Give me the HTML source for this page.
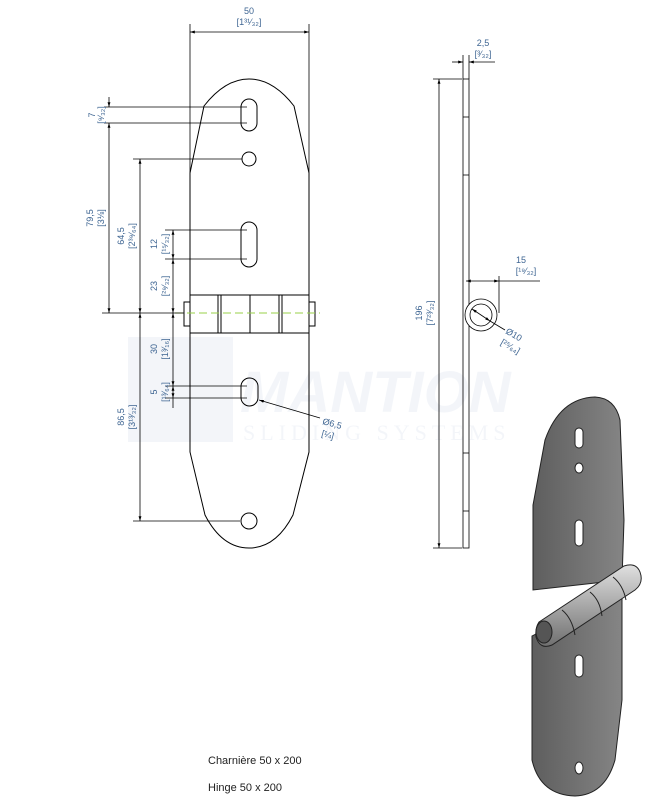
<!DOCTYPE html>
<html><head><meta charset="utf-8"><style>
html,body{margin:0;padding:0;background:#fff;}
svg{display:block;}
.t{font-family:"Liberation Sans",sans-serif;font-size:9px;fill:#3e6592;}
.c{font-family:"Liberation Sans",sans-serif;font-size:11px;fill:#222;}
</style></head><body>
<svg width="654" height="800" viewBox="0 0 654 800" xmlns="http://www.w3.org/2000/svg">
<defs>
<marker id="a" viewBox="0 0 10 10" refX="10" refY="5" markerWidth="6" markerHeight="6" orient="auto-start-reverse"><path d="M0,2 L10,5 L0,8z" fill="#000"/></marker>
<linearGradient id="g1" x1="0" x2="1"><stop offset="0" stop-color="#5e5e5e"/><stop offset="1" stop-color="#858585"/></linearGradient>
<linearGradient id="g2" x1="0" y1="0" x2="0" y2="1"><stop offset="0" stop-color="#e0e0e0"/><stop offset="1" stop-color="#707070"/></linearGradient>
</defs>
<g opacity="0.12">
<rect x="128" y="337" width="105" height="105" fill="#9fb4d4"/>
<text x="240" y="412" font-family="Liberation Sans,sans-serif" font-size="58" font-style="italic" font-weight="bold" fill="#9fb4d4">MANTION</text>
<text x="243" y="440" font-family="Liberation Serif,serif" font-size="22" fill="#9fb4d4" letter-spacing="5">SLIDING SYSTEMS</text>
</g>
<g fill="none" stroke="#000" stroke-width="1">
<path d="M190,173 L204,106 Q225,79 249,79 Q273,79 294,106 L309,173 L309,295 M190,295 L190,173"/>
<path d="M190,333 L190,452 L205,515 Q222,548 249,548 Q276,548 293,515 L309,452 L309,333"/>
<rect x="190" y="295" width="119" height="38"/>
<line x1="218" y1="295" x2="218" y2="333"/><line x1="221" y1="295" x2="221" y2="333"/>
<line x1="250" y1="295" x2="250" y2="333"/>
<line x1="279" y1="295" x2="279" y2="333"/><line x1="282" y1="295" x2="282" y2="333"/>
<rect x="184" y="302" width="6" height="24"/><rect x="309" y="302" width="6" height="24"/>
<rect x="241" y="99" width="16" height="32" rx="8"/>
<circle cx="249" cy="159" r="7"/>
<rect x="241" y="222" width="16" height="45" rx="8"/>
<rect x="241" y="378" width="17" height="28" rx="8.5"/>
<circle cx="249" cy="521" r="8"/>
</g>
<line x1="175" y1="313" x2="320" y2="313" stroke="#9ad04a" stroke-width="1" stroke-dasharray="8,4"/>
<g stroke="#000" stroke-width="0.8" fill="none">
<line x1="190" y1="24" x2="190" y2="173"/><line x1="309" y1="24" x2="309" y2="173"/>
<line x1="190" y1="32" x2="309" y2="32" marker-start="url(#a)" marker-end="url(#a)"/>
<line x1="104" y1="107" x2="247" y2="107"/><line x1="104" y1="123" x2="247" y2="123"/>
<line x1="109" y1="97" x2="109" y2="107" marker-end="url(#a)"/>
<line x1="109" y1="123" x2="109" y2="313" marker-start="url(#a)" marker-end="url(#a)"/>
<line x1="102" y1="313" x2="184" y2="313"/>
<line x1="133" y1="159" x2="242" y2="159"/>
<line x1="140" y1="159" x2="140" y2="313" marker-start="url(#a)" marker-end="url(#a)"/>
<line x1="165" y1="230" x2="247" y2="230"/><line x1="165" y1="259" x2="247" y2="259"/>
<line x1="173" y1="230" x2="173" y2="259" marker-start="url(#a)" marker-end="url(#a)"/>
<line x1="173" y1="259" x2="173" y2="313" marker-start="url(#a)" marker-end="url(#a)"/>
<line x1="173" y1="313" x2="173" y2="386" marker-start="url(#a)" marker-end="url(#a)"/>
<line x1="165" y1="386" x2="247" y2="386"/><line x1="165" y1="398" x2="247" y2="398"/>
<line x1="173" y1="386" x2="173" y2="398" marker-start="url(#a)" marker-end="url(#a)"/>
<line x1="173" y1="398" x2="173" y2="408"/>
<line x1="140" y1="313" x2="140" y2="521" marker-start="url(#a)" marker-end="url(#a)"/>
<line x1="133" y1="521" x2="240" y2="521"/>
<line x1="320" y1="418" x2="259" y2="400" marker-end="url(#a)"/>
<rect x="463" y="79" width="6" height="469"/>
<line x1="463" y1="117" x2="469" y2="117"/><line x1="463" y1="175" x2="469" y2="175"/>
<line x1="463" y1="453" x2="469" y2="453"/><line x1="463" y1="511" x2="469" y2="511"/>
<line x1="463" y1="55" x2="463" y2="79"/><line x1="469" y1="55" x2="469" y2="79"/>
<line x1="452" y1="62" x2="463" y2="62" marker-end="url(#a)"/>
<line x1="469" y1="62" x2="495" y2="62" marker-start="url(#a)"/>
<line x1="433" y1="79" x2="462" y2="79"/><line x1="433" y1="548" x2="462" y2="548"/>
<line x1="439" y1="79" x2="439" y2="548" marker-start="url(#a)" marker-end="url(#a)"/>
<circle cx="481" cy="315" r="16" fill="#fff"/>
<circle cx="481" cy="315" r="11"/>
<line x1="499" y1="276" x2="499" y2="313"/>
<line x1="466" y1="281" x2="499" y2="281" marker-start="url(#a)" marker-end="url(#a)"/>
<line x1="499" y1="281" x2="540" y2="281"/>
<line x1="472" y1="309" x2="490" y2="321" marker-start="url(#a)" marker-end="url(#a)"/>
<line x1="490" y1="321" x2="505" y2="330"/>
</g>
<text class="t" x="249" y="14" text-anchor="middle">50</text>
<text class="t" x="249" y="25" text-anchor="middle">[1³¹⁄₃₂]</text>
<text class="t" transform="translate(95,115) rotate(-90)" text-anchor="middle">7</text>
<text class="t" transform="translate(104,115) rotate(-90)" text-anchor="middle">[⁹⁄₃₂]</text>
<text class="t" transform="translate(93,218) rotate(-90)" text-anchor="middle">79,5</text>
<text class="t" transform="translate(104,218) rotate(-90)" text-anchor="middle">[3⅛]</text>
<text class="t" transform="translate(124,236) rotate(-90)" text-anchor="middle">64,5</text>
<text class="t" transform="translate(135,236) rotate(-90)" text-anchor="middle">[2³⁹⁄₆₄]</text>
<text class="t" transform="translate(157,244) rotate(-90)" text-anchor="middle">12</text>
<text class="t" transform="translate(168,244) rotate(-90)" text-anchor="middle">[¹⁵⁄₃₂]</text>
<text class="t" transform="translate(157,286) rotate(-90)" text-anchor="middle">23</text>
<text class="t" transform="translate(168,286) rotate(-90)" text-anchor="middle">[²⁹⁄₃₂]</text>
<text class="t" transform="translate(157,349) rotate(-90)" text-anchor="middle">30</text>
<text class="t" transform="translate(168,349) rotate(-90)" text-anchor="middle">[1³⁄₁₆]</text>
<text class="t" transform="translate(157,392) rotate(-90)" text-anchor="middle">5</text>
<text class="t" transform="translate(168,392) rotate(-90)" text-anchor="middle">[¹³⁄₆₄]</text>
<text class="t" transform="translate(124,417) rotate(-90)" text-anchor="middle">86,5</text>
<text class="t" transform="translate(135,417) rotate(-90)" text-anchor="middle">[3¹³⁄₃₂]</text>
<text class="t" transform="translate(322,424) rotate(15)">Ø6,5</text>
<text class="t" transform="translate(321,436) rotate(15)">[¼]</text>
<text class="t" x="483" y="46" text-anchor="middle">2,5</text>
<text class="t" x="483" y="57" text-anchor="middle">[³⁄₃₂]</text>
<text class="t" transform="translate(422,313) rotate(-90)" text-anchor="middle">196</text>
<text class="t" transform="translate(433,313) rotate(-90)" text-anchor="middle">[7²³⁄₃₂]</text>
<text class="t" x="521" y="263" text-anchor="middle">15</text>
<text class="t" x="526" y="274" text-anchor="middle">[¹⁹⁄₃₂]</text>
<text class="t" transform="translate(505,333) rotate(30)">Ø10</text>
<text class="t" transform="translate(500,344) rotate(30)">[²⁵⁄₆₄]</text>
<g stroke="#222" stroke-width="1">
<path d="M533,590 L533,505 L545,440 Q560,398 595,397 Q615,398 620,420 L624,520 L622,580 Z" fill="url(#g1)"/>
<path d="M532,636 L532,760 Q540,795 575,796 Q605,795 615,760 L622,700 L622,590 Z" fill="url(#g1)"/>
<path d="M539,622 L624,566 Q636,562 640,572 Q644,583 635,590 L552,645 Q540,650 536,637 Q535,628 539,622 Z" fill="url(#g2)"/>
<path d="M562,610 Q572,618 575,635 M590,592 Q600,600 602,616 M613,577 Q623,585 626,600" fill="none"/>
<ellipse cx="544" cy="632" rx="8" ry="11" fill="#555"/>
<rect x="575" y="428" width="8" height="20" rx="4" fill="#fff"/>
<ellipse cx="579" cy="468" rx="4" ry="5" fill="#fff"/>
<rect x="575" y="520" width="8" height="26" rx="4" fill="#fff"/>
<rect x="575" y="655" width="8" height="22" rx="4" fill="#fff"/>
<ellipse cx="579" cy="768" rx="4" ry="6" fill="#fff"/>
</g>
<text class="c" x="208" y="764">Charnière 50 x 200</text>
<text class="c" x="208" y="791">Hinge 50 x 200</text>
</svg>
</body></html>
